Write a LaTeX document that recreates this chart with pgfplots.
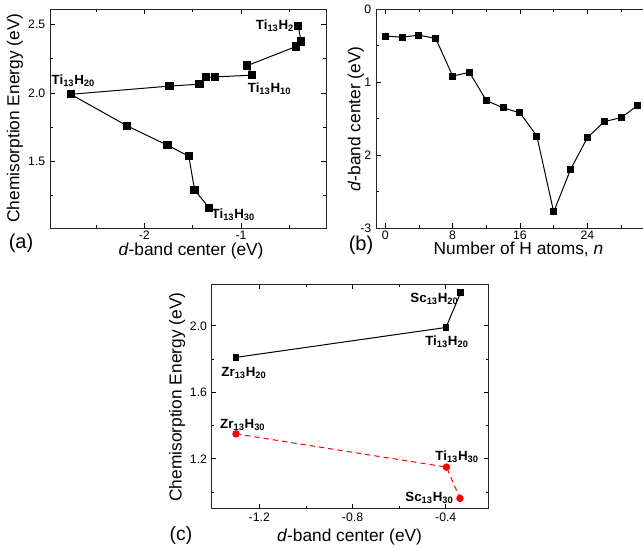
\documentclass[border=0pt]{standalone}
\usepackage{fontspec}
\setmainfont{Liberation Sans}
\usepackage{pgfplots}
\pgfplotsset{compat=1.18}
\newcommand{\lab}[2]{\fontsize{10}{12}\selectfont\bfseries #1\textsubscript{13}H\textsubscript{#2}}
\pgfplotsset{
  myaxis/.style={
    scale only axis, anchor=south west,
    axis line style={line width=0.6pt, black!85},
    tick align=inside,
    major tick length=3.5pt, minor tick length=2pt,
    every tick/.style={black, line width=0.5pt},
    tick label style={font=\fontsize{9.2}{11}\selectfont},
    label style={font=\fontsize{13}{15}\selectfont},
    /pgf/number format/assume math mode=true,
    clip=false,
  },
}
\begin{document}
\begin{tikzpicture}
\useasboundingbox (0,0) rectangle (482.25pt,410.25pt);
\clip (0,0) rectangle (482.25pt,410.25pt);
% ---------------- (a)
\begin{axis}[myaxis,
  at={(37.5pt,239.25pt)}, width=207pt, height=164.25pt,
  xmin=-2.975, xmax=-0.121, ymin=1.012, ymax=2.614,
  xtick={-2,-1}, minor xtick={-2.5,-1.5,-0.5},
  ytick={1.5,2.0,2.5}, minor ytick={1.25,1.75,2.25},
  yticklabel style={/pgf/number format/.cd, fixed, fixed zerofill, precision=1},
  xticklabel style={yshift=1pt},
  xlabel={\textit{d}-band center (eV)},
  ylabel={Chemisorption Energy (eV)},
  xlabel style={at={(axis description cs:0.511,-0.105)}, anchor=center},
  ylabel style={at={(axis description cs:-0.127,0.502)}, anchor=center},
]
\addplot[black, line width=0.75pt, mark=square*, mark size=2.7pt] coordinates {
(-0.407,2.49) (-0.38,2.376) (-0.43,2.34) (-0.935,2.2) (-0.883,2.13) (-1.27,2.117) (-1.36,2.115) (-1.43,2.064) (-1.74,2.05) (-2.76,1.99) (-2.18,1.76) (-1.76,1.617) (-1.54,1.537) (-1.48,1.29) (-1.33,1.16)
};
\node[anchor=east, inner sep=0pt, xshift=-3pt] at (axis cs:-0.407,2.49) {\lab{Ti}{2}};
\node[inner sep=0pt, xshift=1.9pt, yshift=10.4pt] at (axis cs:-2.76,1.99) {\lab{Ti}{20}};
\node[inner sep=0pt, xshift=12.9pt, yshift=-10.5pt] at (axis cs:-0.883,2.13) {\lab{Ti}{10}};
\node[inner sep=0pt, xshift=18.2pt, yshift=-4.9pt] at (axis cs:-1.33,1.16) {\lab{Ti}{30}};
\end{axis}
\node[font=\fontsize{15}{17}\selectfont] at (15.75pt,228pt) {(a)};
% ---------------- (b)
\begin{axis}[myaxis,
  at={(282pt,239.25pt)}, width=205.5pt, height=164.25pt,
  xmin=-1.1, xmax=31.44, ymin=-3, ymax=0,
  xtick={0,8,16,24}, minor xtick={4,12,20,28},
  ytick={0,-1,-2,-3}, minor ytick={-0.5,-1.5,-2.5},
  xticklabel style={yshift=1.5pt},
  xlabel={Number of H atoms, \textit{n}},
  ylabel={\textit{d}-band center (eV)},
  xlabel style={at={(axis description cs:0.52,-0.097)}, anchor=center},
  ylabel style={at={(axis description cs:-0.073,0.498)}, anchor=center, fill=white, inner sep=0.5pt},
]
\addplot[black, line width=0.75pt, mark=square*, mark size=2.25pt] coordinates {
(0,-0.37) (2,-0.386) (4,-0.358) (6,-0.404) (8,-0.918) (10,-0.868) (12,-1.253) (14,-1.354) (16,-1.423) (18,-1.74) (20,-2.78) (22,-2.2) (24,-1.763) (26,-1.543) (28,-1.488) (30,-1.32)
};
\end{axis}
\node[font=\fontsize{15}{17}\selectfont] at (270.75pt,226.5pt) {(b)};
% ---------------- (c)
\begin{axis}[myaxis,
  at={(158.8pt,29pt)}, width=207.5pt, height=168.2pt,
  xmin=-1.404, xmax=-0.217, ymin=0.902, ymax=2.251,
  xtick={-1.2,-0.8,-0.4}, minor xtick={-1.0,-0.6},
  ytick={1.2,1.6,2.0}, minor ytick={1.0,1.4,1.8},
  yticklabel style={/pgf/number format/.cd, fixed, fixed zerofill, precision=1},
  xlabel={\textit{d}-band center (eV)},
  ylabel={Chemisorption Energy (eV)},
  xlabel style={at={(axis description cs:0.498,-0.128)}, anchor=center},
  ylabel style={at={(axis description cs:-0.125,0.496)}, anchor=center},
]
\addplot[black, line width=0.75pt, mark=square*, mark size=2.1pt] coordinates {
(-1.30,1.81) (-0.399,1.99) (-0.336,2.2)
};
\addplot[red, line width=0.75pt, dash pattern=on 4pt off 3pt, mark=*, mark size=2.4pt, mark options={solid, fill=red}] coordinates {
(-1.30,1.35) (-0.397,1.15) (-0.339,0.962)
};
\node[inner sep=0pt, xshift=-19.65pt, yshift=-5pt] at (axis cs:-0.336,2.2) {\lab{Sc}{20}};
\node[inner sep=0pt, xshift=0.75pt, yshift=-11pt] at (axis cs:-0.399,1.99) {\lab{Ti}{20}};
\node[inner sep=0pt, xshift=6pt, yshift=-11.8pt] at (axis cs:-1.30,1.81) {\lab{Zr}{20}};
\node[inner sep=0pt, xshift=5.1pt, yshift=6.9pt] at (axis cs:-1.30,1.35) {\lab{Zr}{30}};
\node[inner sep=0pt, xshift=8pt, yshift=7.9pt] at (axis cs:-0.397,1.15) {\lab{Ti}{30}};
\node[inner sep=0pt, xshift=-22.9pt, yshift=0.6pt] at (axis cs:-0.339,0.962) {\lab{Sc}{30}};
\end{axis}
\node[font=\fontsize{14.5}{17}\selectfont] at (135.75pt,9pt) {(c)};
\end{tikzpicture}
\end{document}
